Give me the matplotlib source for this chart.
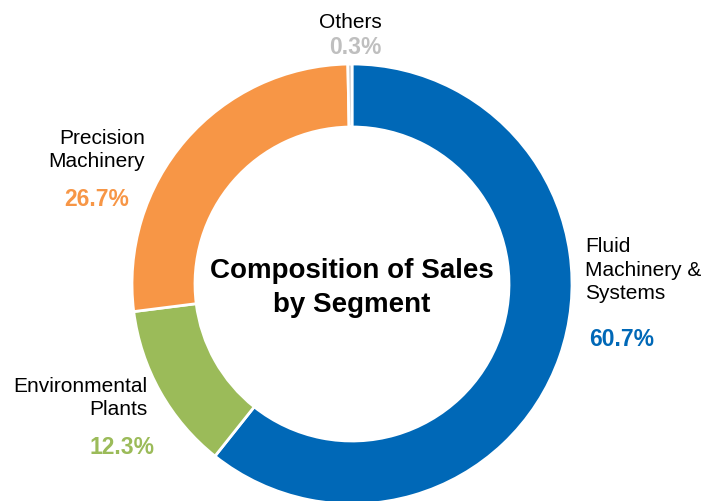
import matplotlib.pyplot as plt

segments = ['Fluid Machinery & Systems', 'Environmental Plants', 'Precision Machinery', 'Others']
shares = [60.7, 12.3, 26.7, 0.3]
colors = ['#0068B7', '#9BBB59', '#F79646', '#BFBFBF']

plt.rcParams['font.family'] = ['Liberation Sans', 'DejaVu Sans']

fig = plt.figure(figsize=(7.07, 5.02), dpi=100)
ax = fig.add_axes([0, 0, 1, 1])

# donut, clockwise from 12 o'clock
ax.pie(shares, colors=colors, startangle=90, counterclock=False,
       center=(352, 217), radius=220,
       wedgeprops=dict(width=63, edgecolor='white', linewidth=2))
ax.set_xlim(0, 707)
ax.set_ylim(0, 502)
ax.set_aspect('equal')
ax.axis('off')

ax.text(352, 214, 'Composition of Sales\nby Segment', ha='center', va='center',
        fontsize=20, fontweight='bold', linespacing=1.4)

lbl = dict(fontsize=15, color='black', linespacing=1.3)
pct = dict(fontsize=16.5, fontweight='bold')

ax.text(350, 480, 'Others', ha='center', va='center', **lbl)
ax.text(355, 454, '%.1f%%' % shares[3], ha='center', va='center', color=colors[3], **pct)

ax.text(145, 352, 'Precision\nMachinery', ha='right', va='center', multialignment='right', **lbl)
ax.text(97, 302, '%.1f%%' % shares[2], ha='center', va='center', color=colors[2], **pct)

ax.text(585, 232, 'Fluid\nMachinery &\nSystems', ha='left', va='center', **lbl)
ax.text(622, 162, '%.1f%%' % shares[0], ha='center', va='center', color=colors[0], **pct)

ax.text(147, 104, 'Environmental\nPlants', ha='right', va='center', multialignment='right', **lbl)
ax.text(122, 54, '%.1f%%' % shares[1], ha='center', va='center', color=colors[1], **pct)

fig.savefig('out.png', dpi=100)
